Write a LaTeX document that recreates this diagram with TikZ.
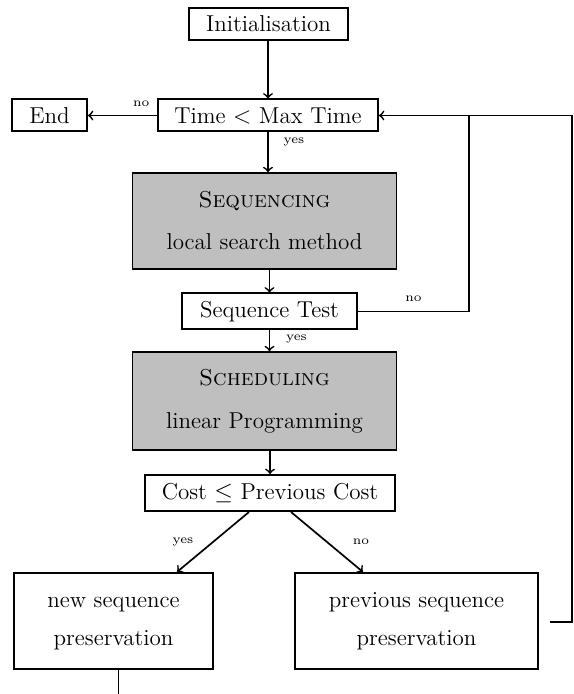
\documentclass[tikz,border=0pt]{standalone}
\usetikzlibrary{calc}
\begin{document}
\begin{tikzpicture}[x=0.5pt,y=-0.5pt,
  box/.style={draw,line width=1pt,inner sep=0pt,align=center,font=\fontsize{11.5}{14}\selectfont},
  gbox/.style={box,fill=black!25,line width=0.8pt},
  lbl/.style={font=\fontsize{6.3}{7}\selectfont,inner sep=0pt},
  arr/.style={->,line width=0.85pt},
  ln/.style={line width=0.85pt}]
\useasboundingbox (0,0) rectangle (573,694);
\node[box,minimum width=79.5pt,minimum height=16pt] (init) at (268.5,24) {Initialisation};
\node[box,minimum width=110pt,minimum height=16pt] (time) at (268,115.5) {Time $<$ Max Time};
\node[box,minimum width=37.5pt,minimum height=16pt] (end) at (49.5,115.5) {End};
\node[gbox,minimum width=132pt,minimum height=48pt] (seq) at (264.5,221) {\textsc{Sequencing}\\[7pt] local search method};
\node[box,minimum width=87.5pt,minimum height=18pt] (test) at (269.5,311.5) {Sequence Test};
\node[gbox,minimum width=132pt,minimum height=49pt] (sched) at (264.5,401) {\textsc{Scheduling}\\[7.5pt] linear Programming};
\node[box,minimum width=125pt,minimum height=18pt] (cost) at (270,493) {Cost $\leq$ Previous Cost};
\node[box,minimum width=99.5pt,minimum height=48pt] (new) at (113.5,621) {\raisebox{-2.5pt}{\begin{tabular}{@{}c@{}}new sequence\\[5pt] preservation\end{tabular}}};
\node[box,minimum width=121.5pt,minimum height=48pt] (prev) at (416.5,621) {\raisebox{-2.5pt}{\begin{tabular}{@{}c@{}}previous sequence\\[5pt] preservation\end{tabular}}};
\coordinate (rc) at (572,115.5);
\coordinate (j) at (469,115.5);
\coordinate (nb) at (118.5,694);
\draw[arr] (time.north |- init.south) -- (time.north);
\draw[arr] (time) -- (end) node[lbl,pos=0.23,yshift=5.75pt] {no};
\draw[arr] (time.south) -- (time.south |- seq.north) node[lbl,pos=0.25,xshift=13pt] {yes};
\draw[arr] (test.north |- seq.south) -- (test.north);
\draw[arr] (test.south) -- (test.south |- sched.north) node[lbl,pos=0.4,xshift=13.5pt] {yes};
\draw[arr] (cost.north |- sched.south) -- (cost.north);
\draw[arr] ($(cost.south)+(-21,0)$) -- ($(new.north)+(63.5,0)$) node[lbl,midway,xshift=-15pt] {yes};
\draw[arr] ($(cost.south)+(21,0)$) -- ($(prev.north)+(-53.5,0)$) node[lbl,midway,xshift=17pt] {no};
\draw[arr] ($(prev.east)+(11,1)$) -| (rc) -- (time.east);
\draw[ln] (test.east) -| (j) node[lbl,pos=0.25,yshift=6.25pt] {no};
\draw[ln] (new.south -| nb) -- (nb);
\end{tikzpicture}
\end{document}
